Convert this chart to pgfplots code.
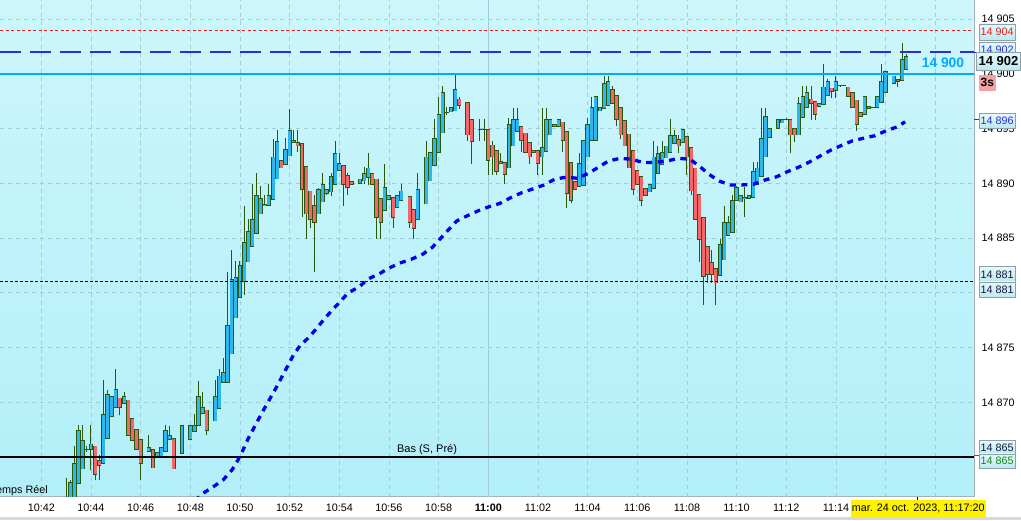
\documentclass[border=0pt]{standalone}
\usepackage{fontspec}
\setmainfont{Liberation Sans}
\usepackage{pgfplots}
\usepackage{pgfplotstable}
\pgfplotsset{compat=1.18}

\definecolor{bgtop}{RGB}{204,246,251}
\definecolor{bgbot}{RGB}{178,239,249}
\definecolor{gridc}{RGB}{160,203,215}
\definecolor{upc}{RGB}{44,184,238}
\definecolor{downc}{RGB}{242,104,104}
\definecolor{wickc}{RGB}{42,88,12}
\definecolor{lvlred}{RGB}{232,32,32}
\definecolor{lvlblue}{RGB}{45,45,215}
\definecolor{lvlcyan}{RGB}{0,170,255}
\definecolor{mablue}{RGB}{0,0,235}
\definecolor{axisc}{RGB}{165,178,188}
\definecolor{boxtop}{RGB}{228,249,251}
\definecolor{boxbot}{RGB}{188,232,238}
\definecolor{boxline}{RGB}{140,160,170}
\definecolor{pinkc}{RGB}{244,162,162}
\definecolor{greenc}{RGB}{20,140,20}
\definecolor{navyc}{RGB}{20,20,60}
\definecolor{bandc}{RGB}{214,218,224}

\newcommand\lbl{\fontsize{10.8}{12}\selectfont}

% 10-second candles: k = index since 10:40:00, open high low close
\pgfplotstableread{
k o h l c
18 14860.0 14863.1 14859.5 14861.0
19 14860.5 14862.9 14860.0 14862.7
20 14861.0 14866.0 14860.5 14864.4
21 14862.6 14867.9 14862.5 14867.4
22 14863.9 14867.9 14863.9 14866.5
23 14865.7 14866.0 14865.5 14865.7
24 14865.7 14867.9 14863.8 14866.2
25 14866.0 14866.0 14862.9 14863.4
26 14864.7 14865.2 14862.9 14864.2
27 14864.4 14872.0 14864.4 14868.9
28 14866.7 14871.1 14866.7 14870.7
29 14868.7 14870.5 14868.7 14870.5
30 14869.5 14873.0 14869.5 14871.2
31 14870.4 14870.4 14868.8 14869.5
32 14869.9 14870.9 14869.9 14870.5
33 14870.2 14870.2 14867.0 14867.0
34 14868.5 14868.5 14866.5 14866.5
35 14867.5 14867.5 14865.7 14865.7
36 14866.6 14866.6 14862.9 14864.4
38 14865.5 14867.0 14865.5 14865.9
39 14865.7 14865.7 14864.0 14864.0
40 14865.0 14865.4 14865.0 14865.4
41 14865.0 14865.9 14865.0 14865.9
42 14865.5 14867.9 14865.5 14867.4
43 14866.6 14867.8 14866.6 14867.0
44 14866.7 14866.7 14863.9 14863.9
46 14865.3 14867.9 14865.3 14867.9
48 14866.6 14867.9 14866.6 14867.9
49 14867.3 14868.9 14867.3 14867.9
50 14867.9 14871.9 14867.9 14870.5
51 14869.0 14870.9 14869.0 14869.5
52 14869.3 14869.3 14867.0 14867.4
54 14868.3 14872.0 14868.3 14870.5
55 14869.4 14873.0 14869.4 14872.4
56 14871.8 14874.0 14871.8 14872.7
57 14871.8 14881.9 14871.8 14877.0
58 14874.4 14883.9 14874.4 14881.2
59 14877.7 14882.9 14877.7 14881.4
60 14879.6 14882.9 14879.6 14882.5
61 14881.0 14887.9 14879.8 14884.6
62 14882.8 14886.7 14882.8 14885.6
63 14884.2 14889.9 14884.2 14886.7
64 14885.4 14890.9 14885.4 14888.9
65 14887.2 14889.8 14887.2 14888.6
66 14888.0 14888.9 14888.0 14888.1
67 14888.0 14889.9 14888.0 14888.9
68 14888.5 14894.0 14888.5 14892.4
69 14890.4 14894.9 14890.4 14893.8
70 14892.1 14892.1 14891.4 14891.4
71 14891.7 14894.1 14891.7 14893.1
72 14892.5 14896.8 14892.5 14894.8
73 14893.7 14894.9 14893.7 14893.9
74 14893.7 14894.9 14892.9 14893.4
75 14893.6 14893.6 14886.9 14889.4
76 14891.5 14891.5 14884.9 14887.2
77 14889.3 14889.3 14885.9 14886.7
78 14888.0 14888.9 14881.9 14886.4
79 14887.2 14889.6 14887.2 14889.4
80 14888.3 14890.9 14888.3 14889.9
81 14889.1 14889.4 14888.9 14889.4
82 14889.2 14890.9 14888.8 14890.6
83 14889.9 14893.9 14889.9 14892.7
84 14891.2 14892.8 14891.2 14891.8
85 14891.6 14891.6 14887.9 14889.9
86 14890.7 14890.9 14888.9 14889.6
87 14890.2 14890.2 14889.9 14889.9
89 14890.0 14890.4 14890.0 14890.4
90 14890.2 14891.5 14889.9 14890.9
91 14890.5 14892.8 14889.8 14891.4
92 14890.9 14890.9 14889.9 14889.9
93 14890.4 14890.4 14884.9 14886.9
94 14888.6 14888.6 14884.9 14886.4
95 14887.5 14891.8 14887.5 14889.6
96 14888.5 14888.9 14888.5 14888.9
97 14888.7 14888.7 14885.9 14886.9
98 14887.8 14888.9 14887.8 14888.9
99 14888.4 14889.9 14888.4 14889.3
101 14888.8 14888.8 14885.9 14886.4
102 14887.6 14887.6 14884.9 14885.9
103 14886.7 14890.9 14886.7 14889.4
105 14888.1 14893.9 14888.1 14892.4
106 14890.2 14892.8 14890.2 14892.8
107 14891.6 14895.9 14891.6 14894.1
108 14892.8 14897.9 14892.8 14896.3
109 14894.6 14898.9 14894.6 14898.3
110 14896.5 14897.0 14896.2 14896.5
111 14896.5 14896.9 14896.5 14896.9
112 14896.6 14899.9 14896.6 14898.6
113 14897.7 14897.9 14896.8 14897.1
115 14897.4 14897.4 14893.9 14894.4
116 14895.8 14895.8 14891.8 14893.8
118 14894.9 14895.9 14893.9 14894.9
119 14894.9 14895.9 14893.9 14894.9
120 14894.9 14894.9 14890.8 14892.1
121 14893.5 14893.9 14890.8 14892.4
122 14893.0 14893.0 14890.8 14891.1
123 14892.0 14892.8 14891.8 14891.8
124 14891.9 14891.9 14889.9 14890.8
125 14891.4 14896.0 14891.4 14895.4
126 14893.4 14896.9 14893.4 14895.8
127 14894.7 14896.9 14894.7 14895.8
128 14895.2 14895.2 14892.9 14893.9
129 14894.6 14894.6 14892.8 14892.8
130 14893.7 14893.7 14891.8 14892.4
131 14893.0 14893.0 14892.8 14892.8
132 14893.0 14893.0 14890.8 14891.8
133 14892.4 14896.9 14890.8 14893.3
134 14892.9 14896.9 14892.9 14895.8
135 14894.4 14895.8 14894.4 14895.8
136 14895.2 14895.4 14895.2 14895.4
137 14895.2 14895.8 14895.2 14895.8
138 14895.6 14895.6 14892.9 14893.9
139 14894.7 14894.7 14887.7 14889.1
140 14891.9 14891.9 14888.2 14888.4
141 14890.2 14890.2 14889.4 14889.4
142 14889.7 14892.8 14889.7 14891.8
143 14889.8 14893.9 14889.8 14893.9
144 14892.4 14896.0 14892.4 14895.4
145 14893.9 14897.9 14893.9 14896.9
146 14893.9 14897.9 14893.9 14897.9
147 14896.6 14896.9 14896.6 14896.9
148 14896.8 14899.8 14896.8 14899.1
149 14897.1 14899.8 14897.1 14899.3
150 14898.6 14898.9 14897.3 14897.3
151 14898.0 14898.0 14895.2 14895.8
152 14896.9 14896.9 14894.0 14894.4
153 14895.7 14895.7 14893.4 14893.4
154 14894.5 14894.5 14891.4 14891.4
155 14893.0 14893.0 14888.9 14889.4
156 14891.2 14891.2 14889.9 14889.9
157 14890.6 14890.6 14887.9 14888.4
158 14889.5 14889.5 14888.9 14888.9
159 14889.2 14889.9 14889.2 14889.9
160 14889.5 14893.9 14889.5 14892.4
161 14890.9 14893.4 14890.9 14892.7
162 14891.7 14893.9 14891.7 14892.8
163 14892.3 14893.4 14892.3 14893.4
164 14892.8 14895.9 14892.8 14894.4
165 14893.6 14894.9 14893.6 14894.4
166 14894.0 14894.4 14892.8 14893.4
167 14893.7 14894.9 14893.7 14894.9
168 14894.3 14894.3 14890.8 14892.4
169 14893.3 14893.3 14888.9 14889.3
170 14891.4 14891.4 14886.7 14886.7
171 14889.0 14889.0 14882.8 14884.9
172 14886.9 14886.9 14878.9 14881.5
173 14884.2 14884.2 14880.9 14881.7
174 14882.8 14883.9 14880.9 14881.7
175 14882.2 14882.2 14878.9 14880.9
176 14881.6 14884.9 14881.6 14884.4
177 14883.0 14887.9 14883.0 14886.4
178 14885.2 14887.0 14885.2 14886.4
179 14885.5 14888.9 14885.5 14888.4
180 14888.4 14889.8 14888.4 14889.6
181 14888.3 14888.9 14888.3 14888.9
182 14888.6 14889.7 14886.9 14888.7
183 14888.6 14888.9 14888.6 14888.9
184 14888.7 14891.9 14888.7 14891.1
185 14889.9 14891.9 14889.9 14891.4
186 14890.6 14896.9 14890.6 14894.1
187 14892.4 14896.9 14892.4 14896.1
188 14894.2 14895.0 14894.2 14895.0
190 14895.0 14895.8 14895.0 14895.8
191 14895.5 14895.8 14895.5 14895.8
192 14895.8 14896.0 14895.8 14895.8
193 14895.8 14895.8 14892.8 14894.4
194 14895.0 14895.0 14893.8 14894.4
195 14894.4 14897.9 14894.4 14897.3
196 14896.0 14898.9 14896.0 14897.9
197 14896.9 14898.9 14896.9 14898.3
198 14897.7 14898.9 14895.8 14897.3
199 14897.5 14897.5 14895.8 14896.3
200 14897.0 14897.3 14897.0 14897.3
201 14897.2 14900.9 14897.2 14898.8
202 14898.0 14899.5 14898.0 14899.3
203 14898.7 14898.7 14897.8 14898.4
204 14898.5 14899.8 14897.8 14899.3
205 14898.9 14899.0 14898.8 14898.9
206 14898.9 14898.9 14898.9 14898.9
207 14898.8 14898.8 14897.9 14897.9
208 14898.3 14898.3 14896.9 14896.9
209 14897.6 14897.6 14894.8 14895.4
210 14896.5 14896.5 14896.1 14896.1
211 14896.3 14897.9 14896.3 14897.9
212 14897.0 14897.0 14896.8 14896.8
213 14896.9 14896.9 14896.9 14896.9
214 14896.9 14897.9 14896.9 14897.9
215 14897.4 14900.9 14897.4 14899.3
216 14898.3 14900.2 14898.3 14900.2
218 14899.1 14899.8 14899.1 14899.8
219 14899.5 14899.5 14898.8 14899.3
220 14899.4 14902.8 14899.4 14901.3
221 14900.4 14901.8 14900.4 14901.6
}\candles

% moving average, minutes since 10:40
\pgfplotstableread{
m ma
8.190 14861.00
8.472 14861.63
8.915 14862.27
9.318 14862.90
9.680 14863.82
9.922 14864.73
10.123 14865.64
10.324 14866.65
10.780 14868.59
11.009 14869.54
11.239 14870.46
11.480 14871.42
11.706 14872.40
11.923 14873.32
12.149 14874.29
12.419 14875.17
12.781 14875.94
13.091 14876.76
13.397 14877.61
13.720 14878.43
14.058 14879.25
14.364 14880.01
14.795 14880.53
15.157 14881.26
15.600 14881.72
16.003 14882.26
16.446 14882.72
16.929 14883.09
17.372 14883.54
17.747 14884.15
18.057 14884.91
18.391 14885.74
18.730 14886.56
19.132 14887.01
19.575 14887.47
20.030 14887.86
20.473 14888.17
20.904 14888.69
21.347 14889.14
21.790 14889.48
22.246 14889.85
22.689 14890.39
23.132 14890.55
23.587 14890.46
24.030 14890.91
24.433 14891.46
24.835 14892.03
25.306 14892.28
25.778 14892.19
26.245 14891.88
26.716 14891.92
27.187 14892.03
27.654 14892.28
28.126 14892.19
28.528 14891.51
28.891 14890.82
29.294 14890.21
29.737 14889.85
30.208 14889.85
30.675 14889.91
31.146 14890.30
31.618 14890.60
32.044 14891.06
32.487 14891.46
32.930 14891.94
33.361 14892.49
33.804 14893.04
34.235 14893.47
34.678 14893.89
35.105 14894.11
35.577 14894.35
36.020 14894.80
36.491 14895.17
36.785 14895.62
}\mavg

\begin{document}
\begin{tikzpicture}
\useasboundingbox (0pt,0pt) rectangle (1021pt,520pt);
\fill[white] (0pt,0pt) rectangle (1021pt,520pt);
\begin{axis}[
  at={(0pt,23pt)}, anchor=south west,
  scale only axis, width=974pt, height=497pt,
  xmin=0.337, xmax=39.56, ymin=14861.35, ymax=14906.74,
  axis background/.style={shade, top color=bgtop, bottom color=bgbot},
  axis x line*=bottom, axis y line*=right,
  axis line style={draw=axisc, line width=1pt, -},
  xtick={0,2,...,38},
  xticklabels={10:40,10:42,10:44,10:46,10:48,10:50,10:52,10:54,10:56,10:58,
    \textbf{11:00},11:02,11:04,11:06,11:08,11:10,11:12,11:14,{},{}},
  ytick={14865,14870,14875,14880,14885,14890,14895,14900,14905},
  yticklabels={{},14 870,14 875,{},14 885,14 890,14 895,14 900,14 905},
  major tick length=0pt,
  tick label style={font=\lbl, inner sep=0pt},
  xticklabel style={anchor=north, yshift=-7pt},
  yticklabel style={anchor=west, xshift=7.5pt},
  grid=major,
  major grid style={draw=gridc, dash pattern=on 4pt off 4pt, line width=0.6pt},
]
% 11:00 separator
\addplot[draw=gridc, line width=0.8pt] coordinates {(20,14850) (20,14910)};

% wicks
\addplot[draw=none, mark=none,
  error bars/.cd, y dir=plus, y explicit, error mark=none,
  error bar style={draw=wickc, line width=1pt}]
  table[x expr=\thisrow{k}/6, y=l, y error plus expr=\thisrow{h}-\thisrow{l}] {\candles};
% body outlines
\addplot[draw=none, mark=none,
  error bars/.cd, y dir=plus, y explicit, error mark=none,
  error bar style={draw=wickc, line width=4.2pt}]
  table[x expr=\thisrow{k}/6, y expr={min(\thisrow{o},\thisrow{c})-0.035},
    y error plus expr={abs(\thisrow{c}-\thisrow{o})+0.07}] {\candles};
% rising bodies
\addplot[draw=none, mark=none,
  restrict expr to domain={\thisrow{c}-\thisrow{o}}{0.08:100},
  error bars/.cd, y dir=plus, y explicit, error mark=none,
  error bar style={draw=upc, line width=2.9pt}]
  table[x expr=\thisrow{k}/6, y expr=\thisrow{o}+0.035,
    y error plus expr=\thisrow{c}-\thisrow{o}-0.07] {\candles};
% falling bodies
\addplot[draw=none, mark=none,
  restrict expr to domain={\thisrow{o}-\thisrow{c}}{0.08:100},
  error bars/.cd, y dir=plus, y explicit, error mark=none,
  error bar style={draw=downc, line width=2.9pt}]
  table[x expr=\thisrow{k}/6, y expr=\thisrow{c}+0.035,
    y error plus expr=\thisrow{o}-\thisrow{c}-0.07] {\candles};

% price levels
\addplot[lvlred, line width=0.8pt, dash pattern=on 3pt off 2.5pt] coordinates {(0.337,14904) (39.56,14904)};
\addplot[lvlblue, line width=2.2pt, dash pattern=on 21pt off 9pt] coordinates {(0.337,14902) (39.56,14902)};
\addplot[lvlcyan, line width=2pt] coordinates {(0.337,14900) (39.56,14900)};
\addplot[black, line width=0.8pt, dash pattern=on 3pt off 2pt] coordinates {(0.337,14881) (39.56,14881)};
\addplot[black, line width=2.4pt] coordinates {(0.337,14865) (39.56,14865)};

% moving average
\addplot[mablue, line width=3.3pt, dash pattern=on 6pt off 5.5pt] table[x=m, y=ma] {\mavg};
\end{axis}

\begin{scope}[x=1pt, y=1pt]
\fill[bandc] (0,0) rectangle (1021,3.3);
\node[text=lvlcyan, font=\bfseries\fontsize{13.8}{14}\selectfont, inner sep=0pt] at (943,457) {14 900};
\node[font=\fontsize{11}{12}\selectfont, inner sep=0pt] at (427,70) {Bas (S, Pré)};
\node[font=\lbl, inner sep=0pt, anchor=east] at (48,29.5) {Temps Réel};

\tikzset{lvlbox/.style={draw=boxline, line width=0.6pt, top color=boxtop, bottom color=boxbot}}
\draw[lvlblue, line width=1pt] (974,467.3) -- (979,467.3);
\draw[lvlblue, line width=1pt] (974,400) -- (979,400);
\draw[greenc, line width=1pt] (974,64) -- (979,64);

\path[lvlbox] (979.3,480) rectangle (1015,496);
\node[text=lvlred, font=\lbl, inner sep=0pt] at (997.2,488) {14 904};
\path[lvlbox] (979.3,462) rectangle (1015,478);
\node[text=lvlblue, font=\lbl, inner sep=0pt] at (997.2,470) {14 902};
\path[lvlbox] (976.7,450) rectangle (1020.3,467.3);
\node[text=black, font=\bfseries\fontsize{13}{14}\selectfont, inner sep=0pt] at (998.5,458.7) {14 902};
\fill[pinkc] (979,429.3) rectangle (995.7,445);
\node[text=black, font=\bfseries\fontsize{12}{13}\selectfont, inner sep=0pt] at (987.3,437.2) {3s};
\path[lvlbox] (979.3,391.7) rectangle (1015,406.7);
\node[text=lvlblue, font=\lbl, inner sep=0pt] at (997.2,399.2) {14 896};
\path[lvlbox] (979.3,238) rectangle (1015,253.3);
\node[text=navyc, font=\lbl, inner sep=0pt] at (997.2,245.6) {14 881};
\path[lvlbox] (979.3,222.7) rectangle (1015,238);
\node[text=navyc, font=\lbl, inner sep=0pt] at (997.2,230.3) {14 881};
\path[lvlbox] (979.3,66) rectangle (1015,79.3);
\node[text=navyc, font=\lbl, inner sep=0pt] at (997.2,72.6) {14 865};
\path[lvlbox] (979.3,51.7) rectangle (1015,66);
\node[text=greenc, font=\lbl, inner sep=0pt] at (997.2,58.8) {14 865};

\fill[yellow] (850.7,3.3) rectangle (985.7,20);
\node[font=\lbl, inner sep=0pt] at (918.2,11.7) {mar. 24 oct. 2023, 11:17:20};
\draw[black, line width=0.8pt] (917.3,23) -- (917.3,20);
\end{scope}
\end{tikzpicture}
\end{document}
